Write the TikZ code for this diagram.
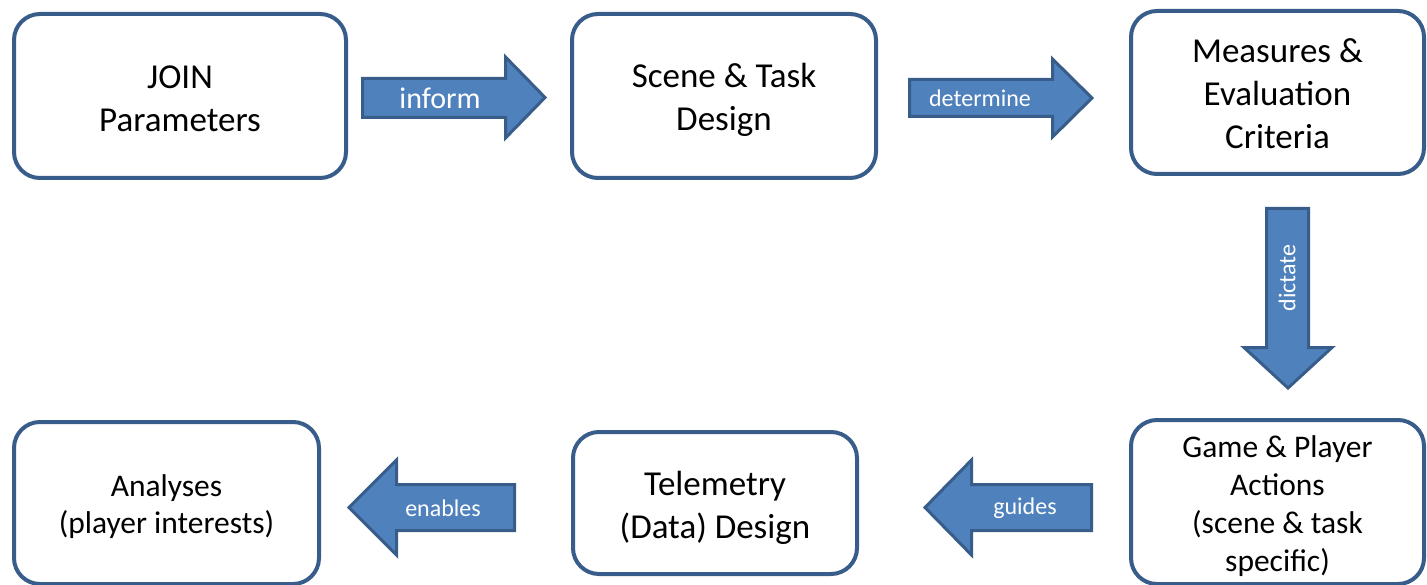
\documentclass[tikz,border=0pt]{standalone}
\usepackage{fontspec}
\setmainfont{Carlito}
\definecolor{boxline}{HTML}{385D8A}
\definecolor{arrowfill}{HTML}{4F81BD}
\begin{document}
\begin{tikzpicture}[x=1pt,y=-1pt,
  stage/.style={draw=boxline, line width=4pt, rounded corners=26pt, fill=white, inner sep=0pt},
  stagetext/.style={align=center, text=black, inner sep=0pt, yshift=-4pt},
  bigtext/.style={font=\fontsize{35}{43}\selectfont},
  midtext/.style={font=\fontsize{31.5}{38}\selectfont},
  blockarrow/.style={draw=boxline, fill=arrowfill, line width=3pt, line join=miter},
  armlabel/.style={text=white, font=\fontsize{24}{28}\selectfont, inner sep=0pt},
  armlabelbig/.style={text=white, font=\fontsize{30}{34}\selectfont, inner sep=0pt}
]
\useasboundingbox (0,0) rectangle (1427,585);

% stage boxes
\node[stage, minimum width=332pt, minimum height=164pt] (join) at (180,96) {};
\node[stagetext, bigtext, yshift=1pt] (joint) at (join.center) {JOIN\\Parameters};
\node[stage, minimum width=304pt, minimum height=164pt] (scene) at (724,96) {};
\node[stagetext, bigtext] (scenet) at (scene.center) {Scene \& Task\\Design};
\node[stage, minimum width=293pt, minimum height=163pt] (measures) at (1277.5,92.5) {};
\node[stagetext, bigtext, yshift=3pt] (measurest) at (measures.center) {Measures \&\\Evaluation\\Criteria};
\node[stage, minimum width=293pt, minimum height=164pt] (game) at (1277.5,502) {};
\node[stagetext, midtext] (gamet) at (game.center) {Game \& Player\\Actions\\(scene \& task\\specific)};
\node[stage, minimum width=284pt, minimum height=142pt] (telemetry) at (715,503) {};
\node[stagetext, bigtext, yshift=-1pt] (telemetryt) at (telemetry.center) {Telemetry\\(Data) Design};
\node[stage, minimum width=305pt, minimum height=162pt] (analyses) at (166.5,503) {};
\node[stagetext, font=\fontsize{31.5}{37}\selectfont] (analysest) at (analyses.center) {Analyses\\(player interests)};

% block arrows
\draw[blockarrow] (362.5,78.5) -- (505.5,78.5) -- (505.5,57) -- (545,97.5) -- (505.5,138) -- (505.5,117.5) -- (362.5,117.5) -- cycle;
\node[armlabelbig] (inform) at (440,98.5) {inform};

\draw[blockarrow] (909.5,79.5) -- (1052.5,79.5) -- (1052.5,59) -- (1092,98) -- (1052.5,137) -- (1052.5,116.5) -- (909.5,116.5) -- cycle;
\node[armlabel] (determine) at (980,98) {determine};

\draw[blockarrow] (1266.5,208.5) -- (1308.5,208.5) -- (1308.5,347.5) -- (1332,347.5) -- (1288,388) -- (1244,347.5) -- (1266.5,347.5) -- cycle;
\node[armlabel, rotate=90] (dictate) at (1287,278) {dictate};

\draw[blockarrow] (1091.5,484.5) -- (971.5,484.5) -- (971.5,460) -- (925,507.5) -- (971.5,555) -- (971.5,530.5) -- (1091.5,530.5) -- cycle;
\node[armlabel] (guides) at (1025,508) {guides};

\draw[blockarrow] (514.5,484.5) -- (396.5,484.5) -- (396.5,460) -- (349,507.5) -- (396.5,555) -- (396.5,530.5) -- (514.5,530.5) -- cycle;
\node[armlabel] (enables) at (443,508) {enables};
\end{tikzpicture}
\end{document}
